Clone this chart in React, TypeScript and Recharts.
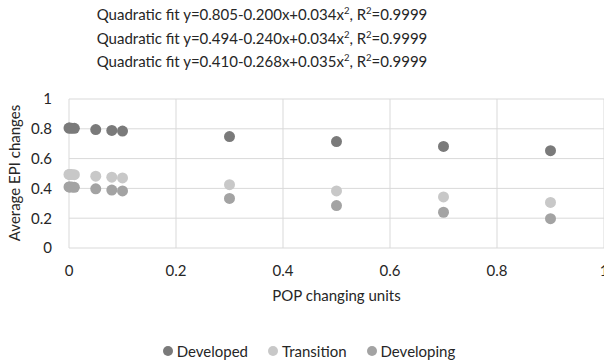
import React from 'react';
import { ScatterChart, Scatter, XAxis, YAxis, CartesianGrid, Label } from 'recharts';

const popUnits = [0, 0.001, 0.005, 0.01, 0.05, 0.08, 0.1, 0.3, 0.5, 0.7, 0.9];
const developed = [0.805, 0.805, 0.804, 0.803, 0.795, 0.789, 0.785, 0.748, 0.714, 0.682, 0.653];
const transition = [0.494, 0.494, 0.493, 0.492, 0.482, 0.475, 0.470, 0.425, 0.383, 0.343, 0.306];
const developing = [0.410, 0.410, 0.409, 0.407, 0.397, 0.389, 0.383, 0.333, 0.285, 0.240, 0.197];

const xTicks = [0, 0.2, 0.4, 0.6, 0.8, 1];
const yTicks = [0, 0.2, 0.4, 0.6, 0.8, 1];

const fits = [
  { a: '0.805', b: '0.200', c: '0.034' },
  { a: '0.494', b: '0.240', c: '0.034' },
  { a: '0.410', b: '0.268', c: '0.035' },
];

const series = [
  { name: 'Developed', color: '#7a7a7a', values: developed },
  { name: 'Transition', color: '#c8c8c8', values: transition },
  { name: 'Developing', color: '#a3a3a3', values: developing },
];

const FONT = 'Lato, "Open Sans", sans-serif';
const TEXT = '#262626';

const fmt = (v: number) => (v === 0 ? '0' : v === 1 ? '1' : v.toFixed(1));

export default function App() {
  return (
    <div style={{ position: 'absolute', left: 0, top: 0, width: 604, height: 361, background: '#fff', fontFamily: FONT, overflow: 'hidden' }}>
      {/* fit equations */}
      <div style={{ position: 'absolute', left: 0, width: 524, top: 3, textAlign: 'center', color: TEXT, fontSize: 15, lineHeight: '23.5px' }}>
        {fits.map((f, i) => (
          <div key={i}>
            Quadratic fit y={f.a}-{f.b}x+{f.c}x<sup style={{ fontSize: 9.5, lineHeight: 0 }}>2</sup>, R<sup style={{ fontSize: 9.5, lineHeight: 0 }}>2</sup>=0.9999
          </div>
        ))}
      </div>

      <ScatterChart width={604} height={361} margin={{ top: 99, right: 0, left: 0, bottom: 53 }} style={{ position: 'absolute', left: 0, top: 0 }}>
        <CartesianGrid stroke="#d9d9d9" strokeWidth={1} />
        <XAxis
          type="number"
          dataKey="x"
          domain={[0, 1]}
          ticks={xTicks}
          interval={0}
          tickFormatter={fmt}
          axisLine={false}
          tickLine={false}
          height={60}
          tick={{ fill: TEXT, fontSize: 15, fontFamily: FONT, dy: 9 }}
        >
          <Label value="POP changing units" position="insideTop" offset={42} fill={TEXT} fontSize={15} fontFamily={FONT} />
        </XAxis>
        <YAxis
          type="number"
          dataKey="y"
          domain={[0, 1]}
          ticks={yTicks}
          interval={0}
          tickFormatter={fmt}
          axisLine={false}
          tickLine={false}
          width={69}
          tick={{ fill: TEXT, fontSize: 15, fontFamily: FONT, dx: -9 }}
        >
          <Label
            content={() => (
              <text x={14} y={173} transform="rotate(-90 14 173)" textAnchor="middle" dominantBaseline="central" fill={TEXT} fontSize={15} fontFamily={FONT}>
                Average EPI changes
              </text>
            )}
          />
        </YAxis>
        {series.map((s) => (
          <Scatter
            key={s.name}
            name={s.name}
            data={popUnits.map((x, i) => ({ x, y: s.values[i] }))}
            fill={s.color}
            isAnimationActive={false}
            shape={(p: any) => <circle cx={p.cx} cy={p.cy} r={5.5} fill={s.color} />}
          />
        ))}
      </ScatterChart>

      {/* legend */}
      <div style={{ position: 'absolute', left: 0, width: 618, top: 342, display: 'flex', justifyContent: 'center', gap: 20, color: TEXT, fontSize: 15 }}>
        {series.map((s) => (
          <div key={s.name} style={{ display: 'flex', alignItems: 'center', gap: 4 }}>
            <span style={{ width: 10, height: 10, borderRadius: 5, background: s.color, display: 'inline-block' }} />
            {s.name}
          </div>
        ))}
      </div>
    </div>
  );
}
